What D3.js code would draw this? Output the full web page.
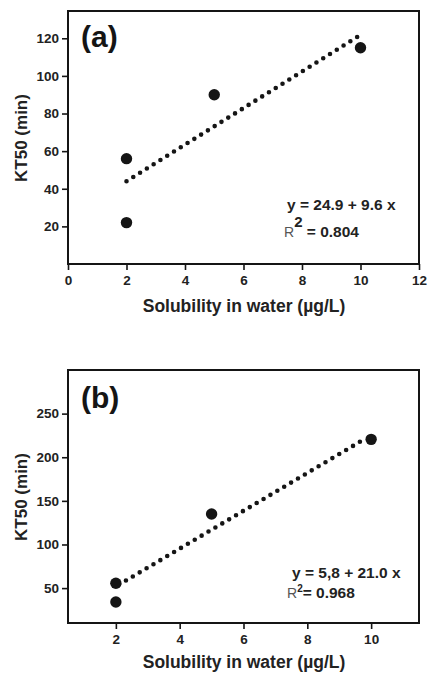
<!DOCTYPE html>
<html>
<head>
<meta charset="utf-8">
<script src="https://cdn.jsdelivr.net/npm/d3@7"></script>
<style>
  body { margin: 0; background: #fff; }
  svg { display: block; font-family: "Liberation Sans", Arial, sans-serif; }
</style>
</head>
<body>
<div id="chart"></div>
<script>
"use strict";
// panel (a)
const solubilityA = [2, 2, 5, 10];
const kt50A = [56, 22, 90, 115];
const fitXA = [2, 9.9];
const fitYA = [44, 120.8];
const xTicksA = [0, 2, 4, 6, 8, 10, 12];
const yTicksA = [20, 40, 60, 80, 100, 120];

// panel (b)
const solubilityB = [2, 2, 5, 10];
const kt50B = [55.5, 34, 135, 220.5];
const fitXB = [2.1, 9.8];
const fitYB = [54, 221];
const xTicksB = [2, 4, 6, 8, 10];
const yTicksB = [50, 100, 150, 200, 250];

const xTitle = "Solubility in water (µg/L)";
const yTitle = "KT50 (min)";

const svg = d3.select("#chart").append("svg")
  .attr("width", 430)
  .attr("height", 676);

svg.append("rect").attr("width", 430).attr("height", 676).attr("fill", "#fff");

function drawPanel(p) {
  const g = svg.append("g").attr("transform", `translate(0,${p.top})`);
  const x = d3.scaleLinear().domain(p.xDomain).range([68, 419]);
  const y = d3.scaleLinear().domain(p.yDomain).range([253, 0]);
  const ink = "#151515";

  // axes (ticks only, the frame is drawn as a rect)
  const xAxis = g.append("g")
    .attr("transform", "translate(0,253)")
    .call(d3.axisBottom(x).tickValues(p.xTicks).tickSize(6).tickSizeOuter(0).tickPadding(5));
  const yAxis = g.append("g")
    .attr("transform", "translate(68,0)")
    .call(d3.axisLeft(y).tickValues(p.yTicks).tickSize(6).tickSizeOuter(0).tickPadding(3));
  [xAxis, yAxis].forEach(a => {
    a.select(".domain").remove();
    a.selectAll("line").attr("stroke", ink).attr("stroke-width", 1.6);
    a.selectAll("text")
      .attr("fill", "#222")
      .style("font-size", "13.5px")
      .style("font-weight", "bold")
      .style("font-family", "'Liberation Sans', Arial, sans-serif");
  });

  g.append("rect")
    .attr("x", 68).attr("y", 0)
    .attr("width", 351).attr("height", 253)
    .attr("fill", "none")
    .attr("stroke", ink)
    .attr("stroke-width", 2);

  // fitted dotted line
  const fit = p.fitX.map((v, i) => [v, p.fitY[i]]);
  g.append("path")
    .datum(fit)
    .attr("d", d3.line().x(d => x(d[0])).y(d => y(d[1])))
    .attr("fill", "none")
    .attr("stroke", ink)
    .attr("stroke-width", 4.6)
    .attr("stroke-linecap", "round")
    .attr("stroke-dasharray", "0,8");

  // points
  g.selectAll("circle.pt")
    .data(p.xs.map((v, i) => [v, p.ys[i]]))
    .enter().append("circle")
    .attr("class", "pt")
    .attr("cx", d => x(d[0]))
    .attr("cy", d => y(d[1]))
    .attr("r", 5.7)
    .attr("fill", ink);

  // panel letter
  g.append("text")
    .attr("x", 81).attr("y", p.letterY)
    .attr("font-size", 30).attr("font-weight", "bold")
    .attr("fill", ink)
    .text(p.letter);

  // equation
  g.append("text")
    .attr("x", p.eqX).attr("y", p.eqY)
    .attr("font-size", 15.5).attr("font-weight", "bold")
    .attr("fill", "#222")
    .text(p.eq);
  const r2 = g.append("text")
    .attr("x", p.rX).attr("y", p.rY)
    .attr("fill", "#222");
  r2.append("tspan").attr("font-size", 14).attr("fill", "#555").text("R");
  r2.append("tspan").attr("font-size", p.supSize).attr("font-weight", "bold")
    .attr("dy", -p.supRise).text("2");
  r2.append("tspan").attr("font-size", 15.5).attr("font-weight", "bold")
    .attr("dy", p.supRise).text(p.r2);

  // axis titles
  g.append("text")
    .attr("x", 244).attr("y", p.xTitleY)
    .attr("text-anchor", "middle")
    .attr("font-size", 17.5).attr("font-weight", "bold")
    .attr("fill", "#222")
    .text(xTitle);
  g.append("text")
    .attr("transform", `translate(27,${p.yTitleC}) rotate(-90)`)
    .attr("text-anchor", "middle")
    .attr("font-size", 17).attr("font-weight", "bold")
    .attr("fill", "#222")
    .text(yTitle);
}

drawPanel({
  top: 11, xDomain: [0, 12], yDomain: [0, 134.5],
  xs: solubilityA, ys: kt50A, fitX: fitXA, fitY: fitYA,
  xTicks: xTicksA, yTicks: yTicksA,
  letter: "(a)", letterY: 36,
  eq: "y = 24.9 + 9.6 x", eqX: 287, eqY: 199,
  rX: 284, rY: 226, r2: " = 0.804", supSize: 15, supRise: 10,
  xTitleY: 301, yTitleC: 127
});

drawPanel({
  top: 370, xDomain: [0.5, 11.5], yDomain: [10, 300],
  xs: solubilityB, ys: kt50B, fitX: fitXB, fitY: fitYB,
  xTicks: xTicksB, yTicks: yTicksB,
  letter: "(b)", letterY: 38,
  eq: "y = 5,8 + 21.0 x", eqX: 292, eqY: 208,
  rX: 287, rY: 228, r2: "= 0.968", supSize: 10, supRise: 6,
  xTitleY: 298, yTitleC: 127
});
</script>
</body>
</html>
